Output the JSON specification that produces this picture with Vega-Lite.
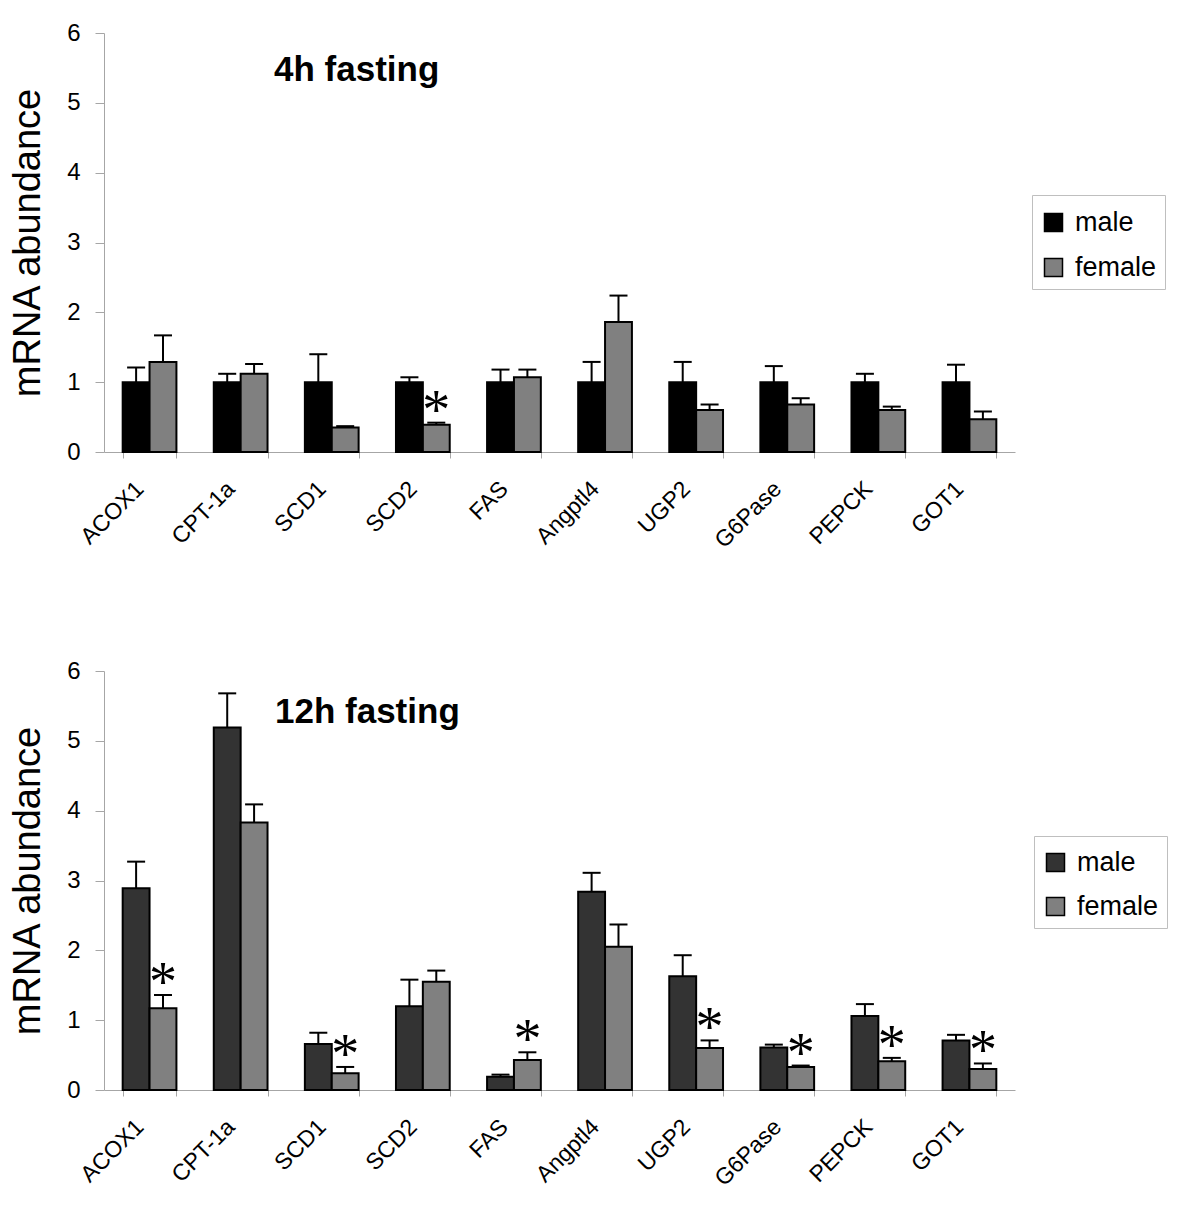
{
  "$schema": "https://vega.github.io/schema/vega-lite/v6.json",
  "background": "white",
  "padding": {"left": 9, "top": 21, "right": 5, "bottom": 5},
  "config": {
    "font": "Liberation Sans",
    "view": {"stroke": null},
    "axis": {"labelFont": "Liberation Sans", "titleFont": "Liberation Sans", "labelColor": "black", "titleColor": "black", "domainColor": "#a6a6a6", "tickColor": "#a6a6a6", "grid": false, "titleFontWeight": "normal"},
    "axisY": {"labelFontSize": 24, "labelPadding": 15, "tickSize": 9, "titleFontSize": 38, "titlePadding": 19, "labelOverlap": false},
    "axisX": {"labelFontSize": 23, "labelAngle": -45, "labelAlign": "right", "labelBaseline": "middle", "labelPadding": 27, "labelOffset": -10, "tickBand": "extent", "tickSize": 6, "labelOverlap": false},
    "legend": {"labelFont": "Liberation Sans"}
  },
  "datasets": {
    "genes": [
      {"time": "4h", "gene": "ACOX1", "sex": "male", "value": 1.0, "err": 1.21, "sig": false},
      {"time": "4h", "gene": "ACOX1", "sex": "female", "value": 1.29, "err": 1.67, "sig": false},
      {"time": "4h", "gene": "CPT-1a", "sex": "male", "value": 1.0, "err": 1.12, "sig": false},
      {"time": "4h", "gene": "CPT-1a", "sex": "female", "value": 1.12, "err": 1.26, "sig": false},
      {"time": "4h", "gene": "SCD1", "sex": "male", "value": 1.0, "err": 1.40, "sig": false},
      {"time": "4h", "gene": "SCD1", "sex": "female", "value": 0.35, "err": 0.37, "sig": false},
      {"time": "4h", "gene": "SCD2", "sex": "male", "value": 1.0, "err": 1.07, "sig": false},
      {"time": "4h", "gene": "SCD2", "sex": "female", "value": 0.39, "err": 0.42, "sig": true},
      {"time": "4h", "gene": "FAS", "sex": "male", "value": 1.0, "err": 1.18, "sig": false},
      {"time": "4h", "gene": "FAS", "sex": "female", "value": 1.07, "err": 1.18, "sig": false},
      {"time": "4h", "gene": "Angptl4", "sex": "male", "value": 1.0, "err": 1.29, "sig": false},
      {"time": "4h", "gene": "Angptl4", "sex": "female", "value": 1.86, "err": 2.24, "sig": false},
      {"time": "4h", "gene": "UGP2", "sex": "male", "value": 1.0, "err": 1.29, "sig": false},
      {"time": "4h", "gene": "UGP2", "sex": "female", "value": 0.60, "err": 0.68, "sig": false},
      {"time": "4h", "gene": "G6Pase", "sex": "male", "value": 1.0, "err": 1.23, "sig": false},
      {"time": "4h", "gene": "G6Pase", "sex": "female", "value": 0.68, "err": 0.77, "sig": false},
      {"time": "4h", "gene": "PEPCK", "sex": "male", "value": 1.0, "err": 1.12, "sig": false},
      {"time": "4h", "gene": "PEPCK", "sex": "female", "value": 0.60, "err": 0.65, "sig": false},
      {"time": "4h", "gene": "GOT1", "sex": "male", "value": 1.0, "err": 1.25, "sig": false},
      {"time": "4h", "gene": "GOT1", "sex": "female", "value": 0.47, "err": 0.58, "sig": false},
      {"time": "12h", "gene": "ACOX1", "sex": "male", "value": 2.89, "err": 3.27, "sig": false},
      {"time": "12h", "gene": "ACOX1", "sex": "female", "value": 1.17, "err": 1.36, "sig": true},
      {"time": "12h", "gene": "CPT-1a", "sex": "male", "value": 5.19, "err": 5.68, "sig": false},
      {"time": "12h", "gene": "CPT-1a", "sex": "female", "value": 3.83, "err": 4.09, "sig": false},
      {"time": "12h", "gene": "SCD1", "sex": "male", "value": 0.66, "err": 0.82, "sig": false},
      {"time": "12h", "gene": "SCD1", "sex": "female", "value": 0.24, "err": 0.33, "sig": true},
      {"time": "12h", "gene": "SCD2", "sex": "male", "value": 1.20, "err": 1.58, "sig": false},
      {"time": "12h", "gene": "SCD2", "sex": "female", "value": 1.55, "err": 1.71, "sig": false},
      {"time": "12h", "gene": "FAS", "sex": "male", "value": 0.19, "err": 0.22, "sig": false},
      {"time": "12h", "gene": "FAS", "sex": "female", "value": 0.43, "err": 0.54, "sig": true},
      {"time": "12h", "gene": "Angptl4", "sex": "male", "value": 2.84, "err": 3.11, "sig": false},
      {"time": "12h", "gene": "Angptl4", "sex": "female", "value": 2.05, "err": 2.37, "sig": false},
      {"time": "12h", "gene": "UGP2", "sex": "male", "value": 1.63, "err": 1.93, "sig": false},
      {"time": "12h", "gene": "UGP2", "sex": "female", "value": 0.60, "err": 0.71, "sig": true},
      {"time": "12h", "gene": "G6Pase", "sex": "male", "value": 0.61, "err": 0.65, "sig": false},
      {"time": "12h", "gene": "G6Pase", "sex": "female", "value": 0.33, "err": 0.35, "sig": true},
      {"time": "12h", "gene": "PEPCK", "sex": "male", "value": 1.06, "err": 1.23, "sig": false},
      {"time": "12h", "gene": "PEPCK", "sex": "female", "value": 0.41, "err": 0.46, "sig": true},
      {"time": "12h", "gene": "GOT1", "sex": "male", "value": 0.71, "err": 0.79, "sig": false},
      {"time": "12h", "gene": "GOT1", "sex": "female", "value": 0.30, "err": 0.38, "sig": true}
    ]
  },
  "resolve": {"scale": {"color": "independent", "y": "independent", "x": "independent", "xOffset": "independent"}, "legend": {"color": "independent"}},
  "spacing": 106,
  "vconcat": [
    {
      "width": 911,
      "height": 419,
      "data": {"name": "genes"},
      "transform": [{"filter": "datum.time === '4h'"}],
      "title": {"text": "4h fasting", "anchor": "start", "frame": "group", "orient": "top", "offset": -95, "dx": 170, "baseline": "alphabetic", "fontSize": 35, "fontWeight": "bold", "font": "Liberation Sans", "color": "black"},
      "encoding": {
        "x": {"field": "gene", "type": "nominal", "sort": null, "scale": {"paddingInner": 0.41, "paddingOuter": 0.205}, "axis": {"title": null}},
        "xOffset": {"field": "sex", "type": "nominal", "sort": ["male", "female"], "scale": {"domain": ["male", "female"], "paddingInner": 0, "paddingOuter": 0}}
      },
      "layer": [
        {
          "mark": {"type": "bar", "stroke": "black", "strokeWidth": 2},
          "encoding": {
            "y": {"field": "value", "type": "quantitative", "scale": {"domain": [0, 6], "nice": false}, "axis": {"title": "mRNA abundance", "values": [0, 1, 2, 3, 4, 5, 6], "format": "d"}},
            "color": {"field": "sex", "type": "nominal", "scale": {"domain": ["male", "female"], "range": ["#000000", "#808080"]},
              "legend": {"title": " ", "titleFontSize": 2, "titlePadding": 4, "orient": "none", "legendX": 928, "legendY": 162, "labelFontSize": 27, "symbolType": "square", "symbolSize": 324, "symbolStrokeColor": "black", "symbolStrokeWidth": 1.5, "labelOffset": 8, "rowPadding": 17, "padding": 8, "strokeColor": "#bfbfbf", "fillColor": "white", "labelColor": "black"}}
          }
        },
        {
          "mark": {"type": "rule", "stroke": "black", "strokeWidth": 2},
          "encoding": {"y": {"field": "err", "type": "quantitative", "axis": {"title": "mRNA abundance", "values": [0, 1, 2, 3, 4, 5, 6], "format": "d"}}, "y2": {"field": "value"}}
        },
        {
          "mark": {"type": "tick", "color": "black", "size": 18, "thickness": 2, "orient": "horizontal", "opacity": 1},
          "encoding": {"y": {"field": "err", "type": "quantitative", "axis": {"title": "mRNA abundance", "values": [0, 1, 2, 3, 4, 5, 6], "format": "d"}}}
        },
        {
          "transform": [{"filter": "datum.sig"}],
          "mark": {"type": "text", "text": "*", "font": "Liberation Serif", "fontSize": 56, "baseline": "alphabetic", "align": "center", "dy": 6, "color": "black"},
          "encoding": {"y": {"field": "err", "type": "quantitative", "axis": {"title": "mRNA abundance", "values": [0, 1, 2, 3, 4, 5, 6], "format": "d"}}}
        }
      ]
    },
    {
      "width": 911,
      "height": 419,
      "data": {"name": "genes"},
      "transform": [{"filter": "datum.time === '12h'"}],
      "title": {"text": "12h fasting", "anchor": "start", "frame": "group", "orient": "top", "offset": -99, "dx": 171, "baseline": "alphabetic", "fontSize": 35, "fontWeight": "bold", "font": "Liberation Sans", "color": "black"},
      "encoding": {
        "x": {"field": "gene", "type": "nominal", "sort": null, "scale": {"paddingInner": 0.41, "paddingOuter": 0.205}, "axis": {"title": null}},
        "xOffset": {"field": "sex", "type": "nominal", "sort": ["male", "female"], "scale": {"domain": ["male", "female"], "paddingInner": 0, "paddingOuter": 0}}
      },
      "layer": [
        {
          "mark": {"type": "bar", "stroke": "black", "strokeWidth": 2},
          "encoding": {
            "y": {"field": "value", "type": "quantitative", "scale": {"domain": [0, 6], "nice": false}, "axis": {"title": "mRNA abundance", "values": [0, 1, 2, 3, 4, 5, 6], "format": "d"}},
            "color": {"field": "sex", "type": "nominal", "scale": {"domain": ["male", "female"], "range": ["#333333", "#808080"]},
              "legend": {"title": " ", "titleFontSize": 2, "titlePadding": 3, "orient": "none", "legendX": 930, "legendY": 165, "labelFontSize": 27, "symbolType": "square", "symbolSize": 324, "symbolStrokeColor": "black", "symbolStrokeWidth": 1.5, "labelOffset": 8, "rowPadding": 16, "padding": 8, "strokeColor": "#bfbfbf", "fillColor": "white", "labelColor": "black"}}
          }
        },
        {
          "mark": {"type": "rule", "stroke": "black", "strokeWidth": 2},
          "encoding": {"y": {"field": "err", "type": "quantitative", "axis": {"title": "mRNA abundance", "values": [0, 1, 2, 3, 4, 5, 6], "format": "d"}}, "y2": {"field": "value"}}
        },
        {
          "mark": {"type": "tick", "color": "black", "size": 18, "thickness": 2, "orient": "horizontal", "opacity": 1},
          "encoding": {"y": {"field": "err", "type": "quantitative", "axis": {"title": "mRNA abundance", "values": [0, 1, 2, 3, 4, 5, 6], "format": "d"}}}
        },
        {
          "transform": [{"filter": "datum.sig"}],
          "mark": {"type": "text", "text": "*", "font": "Liberation Serif", "fontSize": 56, "baseline": "alphabetic", "align": "center", "dy": 6, "color": "black"},
          "encoding": {"y": {"field": "err", "type": "quantitative", "axis": {"title": "mRNA abundance", "values": [0, 1, 2, 3, 4, 5, 6], "format": "d"}}}
        }
      ]
    }
  ]
}
